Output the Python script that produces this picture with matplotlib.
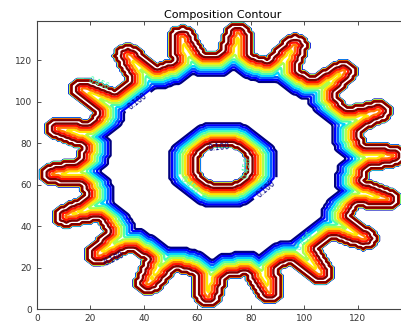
import numpy as np
import matplotlib as mpl
mpl.use('Agg')
import matplotlib.pyplot as plt

# gear geometry on a 140 x 140 grid (unit spacing)
nx, ny = 140, 140
center = (69.5, 69.5)
hole_r = 9.5
root_r = 54.0
tip_r = 68.5
tooth_hw_root = 6.5
tooth_hw_tip = 5.0
tooth_angles = [4, 24, 45, 65, 85, 104, 124, 145, 164,
                184, 203, 223, 244, 265, 286, 305, 326, 345]

# composition: saturated just under the surface, then falls off with depth
sat_depth = 1.5
depth = 10.0

levels = np.linspace(0.1, 0.9, 10)
label_levels = [levels[0], levels[4]]

x = np.arange(nx)
y = np.arange(ny)
X, Y = np.meshgrid(x, y)
dx = X - center[0]
dy = Y - center[1]
r = np.hypot(dx, dy)

solid = r < root_r
tip_c = tip_r - tooth_hw_tip
for a in np.radians(tooth_angles):
    ux, uy = np.cos(a), np.sin(a)
    along = dx*ux + dy*uy
    perp = np.abs(-dx*uy + dy*ux)
    hw = tooth_hw_root + (tooth_hw_tip - tooth_hw_root)*(along - root_r)/(tip_c - root_r)
    solid |= (along > root_r - 10) & (along < tip_c) & (perp < hw)
    solid |= np.hypot(along - tip_c, perp) < tooth_hw_tip
solid &= r > hole_r

# cells outside the part that touch it
outside = ~solid
edge = outside & (np.roll(solid, 1, 0) | np.roll(solid, -1, 0) | np.roll(solid, 1, 1) | np.roll(solid, -1, 1))
ex, ey = X[edge], Y[edge]

# octagonal grid distance to the nearest surface cell
sx, sy = X[solid], Y[solid]
dist = np.empty(sx.size)
for i in range(0, sx.size, 500):
    ax_ = np.abs(sx[i:i+500, None] - ex[None, :])
    ay_ = np.abs(sy[i:i+500, None] - ey[None, :])
    d = np.maximum(np.maximum(ax_, ay_), 0.78*(ax_ + ay_))
    dist[i:i+500] = d.min(axis=1)

comp = np.zeros((ny, nx))
comp[solid] = np.clip(1 - 0.9*(dist - sat_depth)/depth, 0, 1)

fig = plt.figure(figsize=(4.01, 3.27), dpi=100)
ax = fig.add_axes([0.0923, 0.055, 0.927, 0.8817])
CS = ax.contour(X, Y, comp, levels, cmap='jet', linewidths=1.7)
ax.clabel(CS, label_levels, inline=1, fontsize=5.5, fmt='%.3f')
ax.set_xlim(0, 139)
ax.set_ylim(0, 139)
ax.set_xticks([0, 20, 40, 60, 80, 100, 120])
ax.set_yticks([0, 20, 40, 60, 80, 100, 120])
ax.tick_params(direction='in', top=True, right=True, labelsize=6.5, length=3, width=0.6, colors='#333333')
for s in ax.spines.values():
    s.set_linewidth(0.8)
    s.set_color('#444444')
ax.set_title("Composition Contour", fontsize=8, pad=2)
plt.savefig('out.png', dpi=100)
plt.close()
